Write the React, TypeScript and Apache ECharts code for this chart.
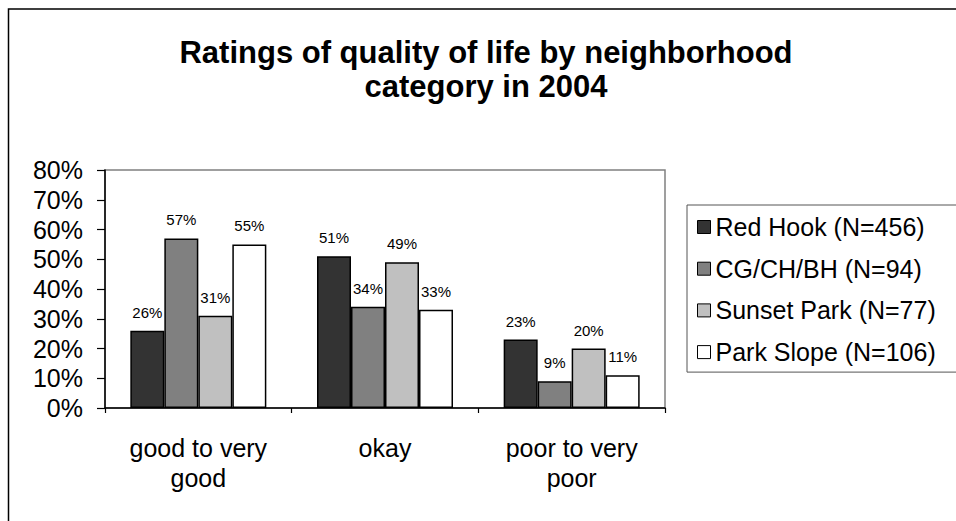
import React, { useEffect, useRef } from "react";
import * as echarts from "echarts";

const categories = ["good to very\ngood", "okay", "poor to very\npoor"];
const seriesNames = ["Red Hook (N=456)", "CG/CH/BH (N=94)", "Sunset Park (N=77)", "Park Slope (N=106)"];
const redHook = [26, 51, 23];
const cgChBh = [57, 34, 9];
const sunsetPark = [31, 49, 20];
const parkSlope = [55, 33, 11];
const seriesColors = ["#333333", "#808080", "#c0c0c0", "#ffffff"];
const titleText = "Ratings of quality of life by neighborhood\ncategory in 2004";

const FONT = "'Liberation Sans', Arial, sans-serif";

export default function App() {
  const ref = useRef<HTMLDivElement>(null);
  useEffect(() => {
    if (!ref.current) return;
    const chart = echarts.init(ref.current, null, { renderer: "svg" });
    const values = [redHook, cgChBh, sunsetPark, parkSlope];
    chart.setOption({
      animation: false,
      backgroundColor: "#ffffff",
      textStyle: { fontFamily: FONT },
      title: {
        text: titleText,
        left: 486,
        textAlign: "center",
        top: 35,
        padding: 0,
        textStyle: { fontFamily: FONT, fontSize: 31, fontWeight: "bold", color: "#000", lineHeight: 34 },
      },
      graphic: [
        {
          type: "rect",
          shape: { x: 8.5, y: 9, width: 1200, height: 800 },
          style: { fill: "none", stroke: "#000", lineWidth: 1.5 },
          silent: true,
        },
      ],
      legend: {
        orient: "vertical",
        left: 687,
        top: 205,
        padding: [8, 22, 6, 10],
        itemGap: 13.7,
        itemWidth: 13,
        itemHeight: 13,
        icon: "rect",
        borderColor: "#555",
        borderWidth: 1,
        itemStyle: { borderColor: "#000", borderWidth: 1 },
        textStyle: { fontFamily: FONT, fontSize: 25, color: "#000", lineHeight: 28, padding: [0, 0, 0, 0] },
        data: seriesNames,
      },
      grid: {
        left: 105,
        right: 291,
        top: 170,
        bottom: 113,
        show: true,
        borderColor: "#808080",
        borderWidth: 1.5,
        containLabel: false,
      },
      xAxis: {
        type: "category",
        data: categories,
        axisLine: { lineStyle: { color: "#000", width: 1.5 } },
        axisTick: { show: true, length: 5, alignWithLabel: false, lineStyle: { color: "#000", width: 1.2 } },
        axisLabel: { fontFamily: FONT, fontSize: 25, color: "#000", lineHeight: 30, margin: 25, interval: 0 },
      },
      yAxis: {
        type: "value",
        min: 0,
        max: 80,
        interval: 10,
        splitLine: { show: false },
        axisLine: { show: true, lineStyle: { color: "#000", width: 1.5 } },
        axisTick: { show: true, length: 8, lineStyle: { color: "#000", width: 1.2 } },
        axisLabel: { fontFamily: FONT, fontSize: 25, color: "#000", margin: 22, formatter: (v: number) => v + "%" },
      },
      series: seriesNames.map((name, i) => ({
        name,
        type: "bar",
        data: values[i],
        barWidth: 34,
        barGap: "0%",
        itemStyle: { color: seriesColors[i], borderColor: "#000", borderWidth: 1.5 },
        label: {
          show: true,
          position: "top",
          distance: 11,
          fontFamily: FONT,
          fontSize: 15,
          color: "#000",
          formatter: "{c}%",
        },
      })),
    });
    return () => chart.dispose();
  }, []);
  return (
    <div
      ref={ref}
      style={{ position: "fixed", left: 0, top: 0, width: 956, height: 521, background: "#fff" }}
    />
  );
}
